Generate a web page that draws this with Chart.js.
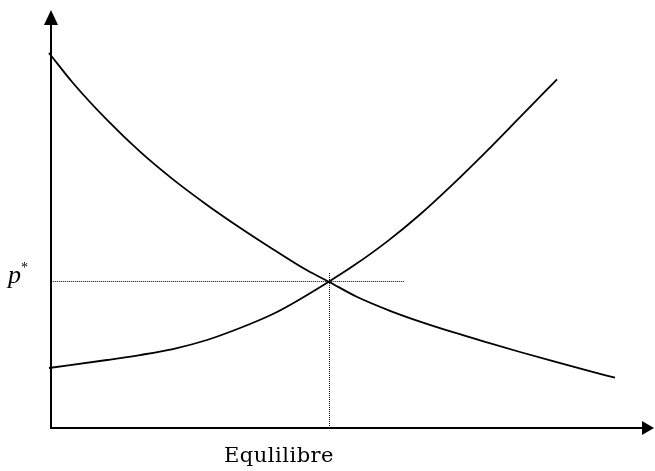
<!DOCTYPE html>
<html>
<head>
<meta charset="utf-8">
<title>Equlilibre</title>
<script src="https://cdn.jsdelivr.net/npm/chart.js@4/dist/chart.umd.min.js"></script>
<style>
  html, body { margin: 0; padding: 0; background: #fff; }
  #chart { display: block; }
</style>
</head>
<body>
<canvas id="chart" width="655" height="471"></canvas>
<script>
// demand curve (quantity, price)
const demandQ = [-0.34, 3.72, 9.48, 15.06, 20.64, 26.40, 31.98, 37.56, 43.32, 47.0, 51.73, 57.36, 62.44, 68.02, 73.77, 79.36, 84.94, 90.69, 95.43];
const demandP = [93.05, 85.61, 76.43, 68.56, 61.69, 55.36, 49.70, 44.37, 39.13, 36.3, 32.56, 29.08, 26.40, 23.77, 21.24, 18.86, 16.57, 14.29, 12.48];

// supply curve (quantity, price)
const supplyQ = [-0.34, 9.48, 15.06, 20.64, 26.40, 31.98, 37.56, 40.44, 47.0, 51.10, 56.85, 62.44, 68.02, 73.77, 79.36, 85.62];
const supplyP = [14.89, 16.87, 18.11, 19.60, 21.84, 24.81, 28.29, 30.52, 36.3, 40.17, 46.25, 52.98, 60.52, 68.78, 77.15, 86.50];

// equilibrium and the dotted guides
const eqQ = 47.12;
const eqP = 36.35;
const guideH = [0.3, 59.7];
const guideV = [0, 38.7];

const priceLabel = "p";
const xLabel = "Equlilibre";

function toPoints(xs, ys) {
  return xs.map((x, i) => ({ x, y: ys[i] }));
}

const curveStyle = {
  borderColor: "#000",
  borderWidth: 1.8,
  pointRadius: 0,
  fill: false,
  cubicInterpolationMode: "monotone",
  clip: false,
};

const guideStyle = {
  borderColor: "#000",
  borderWidth: 1,
  borderDash: [1, 1],
  pointRadius: 0,
  fill: false,
  tension: 0,
};

// arrow heads on the axes and the text labels
const decorations = {
  id: "decorations",
  afterDraw(chart) {
    const { ctx, chartArea, scales } = chart;
    const ox = chartArea.left;
    const oy = chartArea.bottom;
    ctx.save();
    ctx.fillStyle = "#000";

    ctx.beginPath();
    ctx.moveTo(ox, 10);
    ctx.lineTo(ox - 7, chartArea.top);
    ctx.lineTo(ox + 7, chartArea.top);
    ctx.closePath();
    ctx.fill();

    ctx.beginPath();
    ctx.moveTo(654, oy);
    ctx.lineTo(chartArea.right, oy - 7);
    ctx.lineTo(chartArea.right, oy + 7);
    ctx.closePath();
    ctx.fill();

    const py = scales.y.getPixelForValue(eqP);
    ctx.textBaseline = "alphabetic";
    ctx.textAlign = "left";
    ctx.font = 'italic 26px "Liberation Serif"';
    ctx.fillText(priceLabel, 8, py + 1);
    ctx.font = '14px "Liberation Serif"';
    ctx.fillText("*", 21, py - 10);

    ctx.font = '21px "DejaVu Serif"';
    ctx.textAlign = "center";
    ctx.letterSpacing = "0.5px";
    ctx.fillText(xLabel, 279, 462);
    ctx.restore();
  },
};

const axisStyle = {
  type: "linear",
  min: 0,
  max: 100,
  grid: { display: false, drawTicks: false },
  border: { display: true, color: "#000", width: 2 },
  ticks: { display: false },
};

new Chart(document.getElementById("chart").getContext("2d"), {
  type: "line",
  data: {
    datasets: [
      { ...curveStyle, data: toPoints(demandQ, demandP) },
      { ...curveStyle, data: toPoints(supplyQ, supplyP) },
      { ...guideStyle, data: toPoints(guideH, [eqP, eqP]) },
      { ...guideStyle, data: toPoints([eqQ, eqQ], guideV) },
    ],
  },
  options: {
    responsive: false,
    animation: false,
    layout: { padding: { left: 51, right: 13, top: 25, bottom: 43 } },
    plugins: { legend: { display: false }, tooltip: { enabled: false } },
    scales: {
      x: { ...axisStyle, position: "bottom" },
      y: { ...axisStyle, position: "left" },
    },
  },
  plugins: [decorations],
});
</script>
</body>
</html>
